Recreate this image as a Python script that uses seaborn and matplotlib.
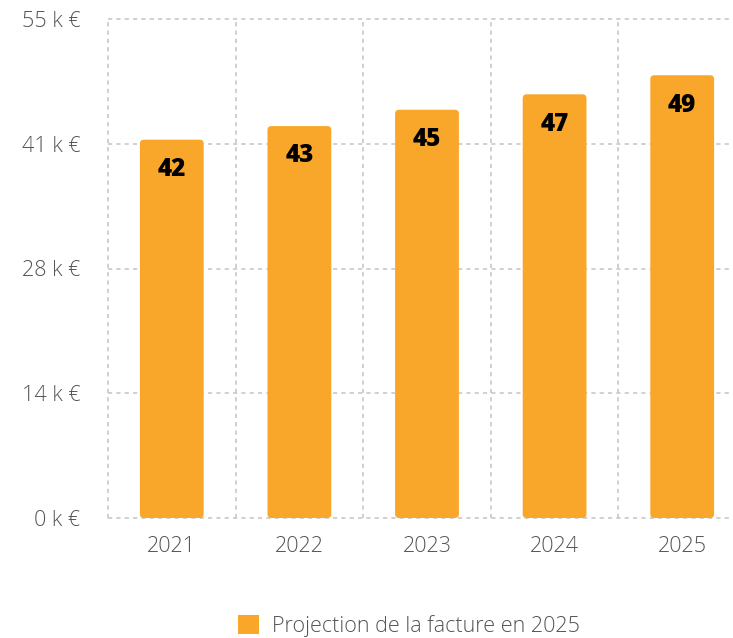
import matplotlib
matplotlib.use("Agg")
import matplotlib.pyplot as plt
import seaborn as sns
import pandas as pd
from matplotlib.patches import FancyBboxPatch, Patch

years = ["2021", "2022", "2023", "2024", "2025"]
values = [41.7, 43.2, 45.0, 46.7, 48.8]  # thousands of euros
bar_labels = ["42", "43", "45", "47", "49"]
ytick_values = [0, 13.75, 27.5, 41.25, 55]
ytick_labels = ["0 k €", "14 k €", "28 k €", "41 k €", "55 k €"]
legend_label = "Projection de la facture en 2025"

color = "#F9A72B"
df = pd.DataFrame({"year": years, "value": values})

sns.set_theme(style="white")
plt.rcParams["font.family"] = ["Open Sans", "DejaVu Sans"]

W, H = 733, 638
fig = plt.figure(figsize=(W / 100, H / 100), dpi=100)
left, right, bottom, top = 108, 746, 518, 19
ax = fig.add_axes([left / W, (H - bottom) / H, (right - left) / W, (bottom - top) / H])

sns.barplot(data=df, x="year", y="value", color=color, width=0.5, ax=ax,
            saturation=1, zorder=3)

ax.set_xlim(-0.5, 4.5)
ax.set_ylim(0, 55)

# rounded bars
px_x = (right - left) / 5.0
px_y = (bottom - top) / 55.0
r = 4.0 / px_x
for p in list(ax.patches):
    x, y, w, h = p.get_x(), p.get_y(), p.get_width(), p.get_height()
    p.remove()
    fb = FancyBboxPatch((x, y), w, h,
                        boxstyle=f"round,pad=0,rounding_size={r}",
                        mutation_aspect=px_x / px_y,
                        fc=color, ec="none", zorder=3)
    ax.add_patch(fb)

for i, (v, lab) in enumerate(zip(values, bar_labels)):
    ax.annotate(lab, (i, v), xytext=(0, -21.5), textcoords="offset points",
                ha="center", va="center", fontsize=17.5, fontweight=800,
                family=["Open Sans", "DejaVu Sans"], color="black", zorder=4)

ax.set_yticks(ytick_values)
ax.set_yticklabels(ytick_labels)
ax.tick_params(axis="y", length=0, pad=20, labelsize=15.5, labelcolor="#555555")
ax.tick_params(axis="x", length=0, pad=13, labelsize=15.5, labelcolor="#555555")
for t in ax.get_yticklabels() + ax.get_xticklabels():
    t.set_fontweight(300)

ax.set_xlabel("")
ax.set_ylabel("")
for s in ax.spines.values():
    s.set_visible(False)

grid_kw = dict(color="#c8c8c8", lw=1.2, ls=(0, (2.5, 2.5)), zorder=1, clip_on=False)
for yv in ytick_values:
    ax.axhline(yv, **grid_kw)
for xv in [-0.5, 0.5, 1.5, 2.5, 3.5, 4.5]:
    ax.axvline(xv, **grid_kw)

handle = Patch(fc=color, ec="none")
leg = fig.legend([handle], [legend_label], loc="center", bbox_to_anchor=(409 / W, (H - 626) / H),
                 frameon=False, fontsize=15.5, handlelength=1.0, handleheight=1.0,
                 handletextpad=0.6, labelcolor="#555555")
for t in leg.get_texts():
    t.set_fontweight(300)

fig.savefig("out.png", dpi=100)
